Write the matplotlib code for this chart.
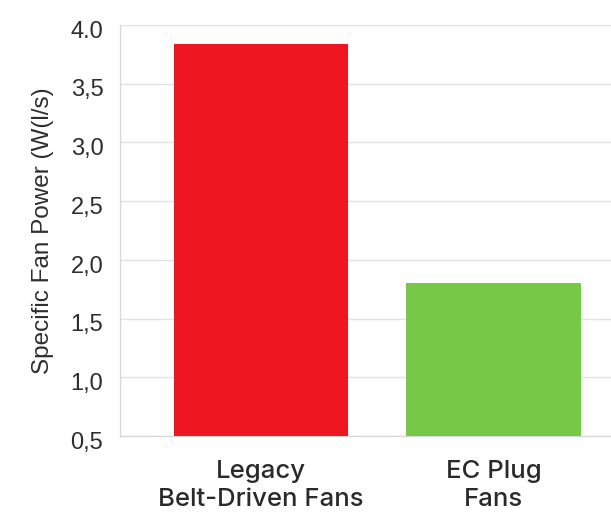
import matplotlib.pyplot as plt
import matplotlib.transforms as mtransforms
import numpy as np

plt.rcParams['font.family'] = ['Liberation Sans', 'DejaVu Sans']

categories = ["Legacy\nBelt-Driven Fans", "EC Plug\nFans"]
sfp_values = [3.84, 1.80]
bar_colors = ["#EE1620", "#76C846"]
y_ticks = [0.5, 1.0, 1.5, 2.0, 2.5, 3.0, 3.5, 4.0]
y_tick_labels = ["0,5", "1,0", "1,5", "2,0", "2,5", "3,0", "3,5", "4.0"]


def main():
    fig = plt.figure(figsize=(6.11, 5.13), dpi=100)
    ax = fig.add_axes([0.1964, 0.150, 0.8036, 0.8013])

    x = np.arange(len(categories))
    ax.bar(x, sfp_values, width=0.75, color=bar_colors, zorder=3)

    ax.set_ylim(0.5, 4.0)
    ax.set_xlim(-0.606, 1.505)
    ax.set_yticks(y_ticks)
    ax.set_yticklabels(y_tick_labels)
    ax.set_xticks(x)
    ax.set_xticklabels(categories, linespacing=1.3,
                       family=['Inter', 'DejaVu Sans'], fontweight='medium')

    ax.grid(axis='y', color='#E2E2E2', linewidth=1.0, zorder=0)
    for side in ['top', 'right']:
        ax.spines[side].set_visible(False)
    for side in ['left', 'bottom']:
        ax.spines[side].set_color('#D8D8D8')
        ax.spines[side].set_linewidth(1.0)

    ax.tick_params(axis='y', length=0, pad=12, labelsize=17, labelcolor='#2E2E2E')
    ax.tick_params(axis='x', length=0, pad=17, labelsize=18.5, labelcolor='#2A2A2A')

    # nudge the y tick labels slightly below their gridlines
    shift = mtransforms.ScaledTranslation(0, -3 / 72, fig.dpi_scale_trans)
    for label in ax.get_yticklabels():
        label.set_transform(label.get_transform() + shift)

    ax.set_ylabel("Specific Fan Power (W(l/s)", fontsize=17.5, color='#2E2E2E', labelpad=12)

    fig.savefig("out.png", dpi=100, facecolor='white')


if __name__ == '__main__':
    main()
